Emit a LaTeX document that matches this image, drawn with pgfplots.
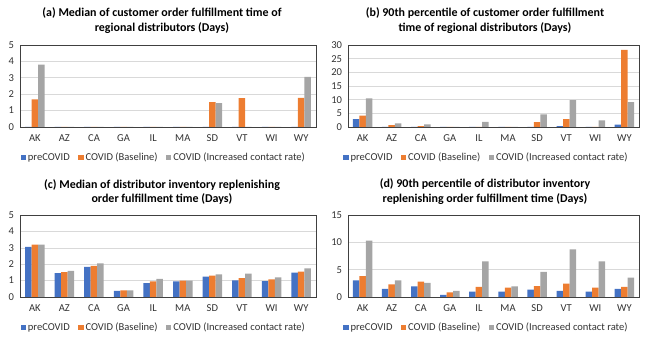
\documentclass[border=0pt]{standalone}
\usepackage{fontspec}
\setmainfont{Carlito}
\usepackage{pgfplots}
\pgfplotsset{compat=1.18}
\definecolor{preC}{HTML}{4472C4}
\definecolor{baseC}{HTML}{ED7D31}
\definecolor{incC}{HTML}{A5A5A5}

\pgfplotsset{
  panel/.style={
    scale only axis, height=82bp,
    ybar=0pt, bar width=6.5bp,
    xmin=-0.5, xmax=9.5, xtick={0,...,9},
    xticklabels={AK,AZ,CA,GA,IL,MA,SD,VT,WI,WY},
    ymin=0, ymajorgrids, grid style={black!15, line width=0.6pt},
    axis line style={black!75, line width=0.7pt},
    major tick length=0pt,
    tick label style={font=\fontsize{10.6}{11}\selectfont, text=black!80},
    xticklabel style={yshift=-4.5bp},
    yticklabel style={xshift=-2.5bp},
    /pgf/number format/assume math mode=true,
    legend columns=-1,
    legend style={draw=none, fill=none, font=\fontsize{10.6}{11}\selectfont, text=black!80,
      /tikz/every even column/.append style={column sep=6.5bp}},
    legend image code/.code={\fill[##1] (0bp,-2.6bp) rectangle (5.2bp,2.6bp);},
  },
  pre/.style={fill=preC, draw=none},
  base/.style={fill=baseC, draw=none},
  inc/.style={fill=incC, draw=none},
}

\begin{document}
\begin{tikzpicture}
\useasboundingbox (0,0) rectangle (646bp,342bp);

% (a) median customer order fulfillment
\begin{axis}[panel, width=296bp, at={(20bp,215bp)}, anchor=south west,
  ymax=5, ytick={0,1,2,3,4,5},
  legend style={at={(0.486,-0.37)}, anchor=center}]
  \addplot[pre] coordinates {(0,0) (1,0) (2,0) (3,0) (4,0) (5,0) (6,0) (7,0) (8,0) (9,0)};
  \addplot[base] coordinates {(0,1.68) (1,0) (2,0) (3,0) (4,0) (5,0) (6,1.52) (7,1.76) (8,0) (9,1.78)};
  \addplot[inc] coordinates {(0,3.8) (1,0) (2,0) (3,0) (4,0) (5,0) (6,1.45) (7,0) (8,0) (9,3.05)};
  \legend{preCOVID, COVID (Baseline), COVID (Increased contact rate)}
\end{axis}

% (b) 90th percentile customer order fulfillment
\begin{axis}[panel, width=291bp, at={(348bp,215bp)}, anchor=south west,
  ymax=30, ytick={0,5,...,30},
  legend style={at={(0.476,-0.37)}, anchor=center}]
  \addplot[pre] coordinates {(0,2.9) (1,0) (2,0) (3,0) (4,0) (5,0) (6,0) (7,0.3) (8,0) (9,0.9)};
  \addplot[base] coordinates {(0,4.2) (1,0.7) (2,0.3) (3,0) (4,0) (5,0) (6,1.8) (7,2.9) (8,0) (9,28.2)};
  \addplot[inc] coordinates {(0,10.5) (1,1.3) (2,1.0) (3,0) (4,1.9) (5,0) (6,4.6) (7,9.8) (8,2.4) (9,9.1)};
  \legend{preCOVID, COVID (Baseline), COVID (Increased contact rate)}
\end{axis}

% (c) median distributor replenishing
\begin{axis}[panel, width=296bp, at={(20bp,45bp)}, anchor=south west,
  ymax=5, ytick={0,1,2,3,4,5},
  legend style={at={(0.486,-0.37)}, anchor=center}]
  \addplot[pre] coordinates {(0,3.05) (1,1.45) (2,1.83) (3,0.38) (4,0.85) (5,0.95) (6,1.25) (7,1.02) (8,0.97) (9,1.48)};
  \addplot[base] coordinates {(0,3.2) (1,1.52) (2,1.9) (3,0.4) (4,0.95) (5,1.0) (6,1.3) (7,1.15) (8,1.07) (9,1.55)};
  \addplot[inc] coordinates {(0,3.2) (1,1.6) (2,2.05) (3,0.4) (4,1.1) (5,1.0) (6,1.38) (7,1.42) (8,1.2) (9,1.75)};
  \legend{preCOVID, COVID (Baseline), COVID (Increased contact rate)}
\end{axis}

% (d) 90th percentile distributor replenishing
\begin{axis}[panel, width=291bp, at={(348bp,45bp)}, anchor=south west,
  ymax=15, ytick={0,5,10,15},
  legend style={at={(0.476,-0.37)}, anchor=center}]
  \addplot[pre] coordinates {(0,3.05) (1,1.5) (2,1.95) (3,0.4) (4,1.0) (5,1.0) (6,1.35) (7,1.1) (8,1.0) (9,1.5)};
  \addplot[base] coordinates {(0,3.8) (1,2.3) (2,2.8) (3,0.85) (4,1.85) (5,1.7) (6,2.0) (7,2.45) (8,1.7) (9,1.85)};
  \addplot[inc] coordinates {(0,10.3) (1,3.05) (2,2.6) (3,1.1) (4,6.5) (5,1.95) (6,4.6) (7,8.7) (8,6.5) (9,3.55)};
  \legend{preCOVID, COVID (Baseline), COVID (Increased contact rate)}
\end{axis}

\begin{scope}[every node/.style={align=center, font=\bfseries\fontsize{12}{15}\selectfont}]
  \node at (162bp,321bp) {(a) Median of customer order fulfillment time of\\regional distributors (Days)};
  \node at (485bp,321bp) {(b) 90th percentile of customer order fulfillment\\time of regional distributors (Days)};
  \node at (162bp,150bp) {(c) Median of distributor inventory replenishing\\order fulfillment time (Days)};
  \node at (485bp,150bp) {(d) 90th percentile of distributor inventory\\replenishing order fulfillment time (Days)};
\end{scope}
\end{tikzpicture}
\end{document}
